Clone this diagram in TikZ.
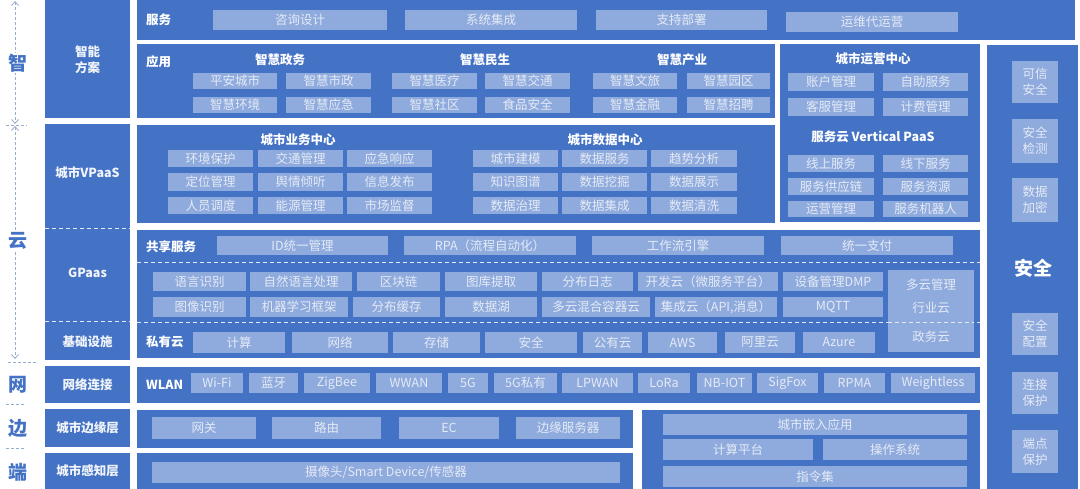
\documentclass[tikz,border=0pt]{standalone}
\usepackage{fontspec}
\setmainfont{Noto Sans CJK SC}
\usepackage{xcolor}
\usepackage{tikz}
\usetikzlibrary{arrows.meta,positioning}
\definecolor{panelblue}{RGB}{68,114,196}
\definecolor{cellblue}{RGB}{143,170,220}
\definecolor{celltext}{RGB}{228,235,247}
\definecolor{guidegray}{RGB}{150,172,205}
\tikzset{
  panelbox/.style={fill=panelblue,draw=none,inner sep=0pt},
  cellbox/.style={fill=cellblue,draw=none,inner sep=0pt,text=celltext,
    align=center,font=\fontsize{12.5}{14}\selectfont},
  secbox/.style={cellbox,font=\fontsize{12.5}{16}\selectfont},
  head/.style={text=white,inner sep=0pt,font=\bfseries\fontsize{12.5}{14}\selectfont},
  sidelabel/.style={text=white!92!panelblue,align=center,inner sep=0pt,
    font=\bfseries\fontsize{12.5}{16}\selectfont},
  divider/.style={white!85!panelblue,dash pattern=on 4pt off 3pt,line width=1pt},
  guideline/.style={guidegray,dash pattern=on 3pt off 2pt,line width=0.8pt},
  sidechar/.style={text=panelblue,fill=white,inner sep=1pt,
    font=\bfseries\fontsize{19}{20}\selectfont}
}
% box from (x1,y1) to (x2,y2), y counted downwards
\newcommand{\blk}[7][panelbox]{%
  \node[#1,minimum width={#5-#3},minimum height={#6-#4}] (#2)
    at ({(#3+#5)/2},{(#4+#6)/2}) {#7};}

\begin{document}
\begin{tikzpicture}[x=1pt,y=-1pt]
  \useasboundingbox (0,0) rectangle (1080,489);

  % left guide
  \coordinate (zhitop) at (15,1);
  \coordinate (zhibot) at (15,124);
  \coordinate (yuntop) at (15,126);
  \coordinate (yunbot) at (15,359);
  \draw[guideline,{Straight Barb[length=4pt,width=7pt]}-{Straight Barb[length=4pt,width=7pt]}] (zhitop) -- (zhibot);
  \draw[guideline,{Straight Barb[length=4pt,width=7pt]}-{Straight Barb[length=4pt,width=7pt]}] (yuntop) -- (yunbot);
  \draw[guideline] (6,125) -- (27,125);
  \draw[guideline] (8,362) -- (36,362);
  \draw[guideline] (6,404) -- (26,404);
  \draw[guideline] (6,448) -- (26,448);
  \node[sidechar] (zhi) at (18,63) {智};
  \node[sidechar] (yun) at (18,241) {云};
  \node[sidechar] (wang) at (18,385) {网};
  \node[sidechar] (bian) at (18,428) {边};
  \node[sidechar] (duan) at (18,472) {端};

  % left column
  \blk{lsol}{45}{0}{130}{118}{}
  \blk{lcloud}{45}{124}{130}{360}{}
  \blk{lnet}{45}{366}{130}{403}{}
  \blk{ledge}{45}{409}{130}{447}{}
  \blk{lsense}{45}{453}{130}{489}{}
  \draw[divider] (45,229) -- (130,229);
  \draw[divider] (45,322) -- (130,322);
  \node[sidelabel] (lsoltxt) at (87.5,60) {智能\\方案};
  \node[sidelabel] (lvpaas) at (87.5,173) {城市VPaaS};
  \node[sidelabel] (lgpaas) at (87.5,273) {GPaas};
  \node[sidelabel] (linfra) at (87.5,342) {基础设施};
  \node[sidelabel] (lnettxt) at (87.5,385) {网络连接};
  \node[sidelabel] (ledgetxt) at (87.5,428) {城市边缘层};
  \node[sidelabel] (lsensetxt) at (87.5,471) {城市感知层};

  % panels
  \blk{svc}{137}{0}{1075}{40}{}
  \blk{app}{137}{44}{775}{118}{}
  \blk{ops}{780}{44}{980}{222}{}
  \blk{vpaas}{137}{125}{775}{223}{}
  \blk{gpaas}{137}{230}{980}{358}{}
  \blk{net}{137}{367}{980}{403}{}
  \blk{edge}{137}{410}{633}{448}{}
  \blk{sense}{137}{453}{633}{489}{}
  \blk{embed}{642}{410}{980}{489}{}
  \blk{sec}{987}{45}{1078}{489}{}
  \draw[divider] (137,263) -- (980,263);
  \draw[divider] (137,323) -- (980,323);

  % service
  \node[head,anchor=west] (svctxt) at (146,20) {服务};
  \blk[cellbox]{consult}{213}{10}{387}{30}{咨询设计}
  \blk[cellbox]{integ}{405}{10}{577}{30}{系统集成}
  \blk[cellbox]{deploy}{596}{10}{767}{30}{支持部署}
  \blk[cellbox]{operate}{786}{12}{958}{32}{运维代运营}

  % application
  \node[head,anchor=west] (apptxt) at (146,62) {应用};
  \node[head] (govtxt) at (280,60) {智慧政务};
  \node[head] (livetxt) at (485,60) {智慧民生};
  \node[head] (indutxt) at (682,60) {智慧产业};
  \blk[cellbox]{safecity}{193}{73}{277}{89}{平安城市}
  \blk[cellbox]{munic}{286}{73}{371}{89}{智慧市政}
  \blk[cellbox]{envir}{193}{97}{277}{113}{智慧环境}
  \blk[cellbox]{emerg}{286}{97}{371}{113}{智慧应急}
  \blk[cellbox]{medic}{392}{73}{477}{89}{智慧医疗}
  \blk[cellbox]{traffic}{485}{73}{570}{89}{智慧交通}
  \blk[cellbox]{commun}{392}{97}{477}{113}{智慧社区}
  \blk[cellbox]{food}{485}{97}{570}{113}{食品安全}
  \blk[cellbox]{tour}{593}{73}{677}{89}{智慧文旅}
  \blk[cellbox]{park}{687}{73}{770}{89}{智慧园区}
  \blk[cellbox]{finance}{593}{97}{677}{113}{智慧金融}
  \blk[cellbox]{hire}{687}{97}{770}{113}{智慧招聘}

  % operation centre
  \node[head] (opstxt) at (873,59) {城市运营中心};
  \blk[cellbox]{account}{788}{73}{874}{91}{账户管理}
  \blk[cellbox]{selfsvc}{883}{73}{968}{91}{自助服务}
  \blk[cellbox]{custsvc}{788}{98}{874}{116}{客服管理}
  \blk[cellbox]{billing}{883}{98}{968}{116}{计费管理}
  \node[head] (vcloudtxt) at (873,137) {服务云 Vertical PaaS};
  \blk[cellbox]{online}{788}{155}{874}{172}{线上服务}
  \blk[cellbox]{offline}{883}{155}{968}{172}{线下服务}
  \blk[cellbox]{supply}{788}{178}{874}{195}{服务供应链}
  \blk[cellbox]{resource}{883}{178}{968}{195}{服务资源}
  \blk[cellbox]{opsmgmt}{788}{201}{874}{217}{运营管理}
  \blk[cellbox]{robot}{883}{201}{968}{217}{服务机器人}

  % vpaas
  \node[head] (biztxt) at (298,140) {城市业务中心};
  \node[head] (datatxt) at (605,140) {城市数据中心};
  \blk[cellbox]{envprot}{168}{150}{253}{167}{环境保护}
  \blk[cellbox]{trafmgmt}{258}{150}{343}{167}{交通管理}
  \blk[cellbox]{respond}{347}{150}{432}{167}{应急响应}
  \blk[cellbox]{locate}{168}{173}{253}{191}{定位管理}
  \blk[cellbox]{opinion}{258}{173}{343}{191}{舆情倾听}
  \blk[cellbox]{publish}{347}{173}{432}{191}{信息发布}
  \blk[cellbox]{dispatch}{168}{197}{253}{214}{人员调度}
  \blk[cellbox]{energy}{258}{197}{343}{214}{能源管理}
  \blk[cellbox]{market}{347}{197}{432}{214}{市场监督}
  \blk[cellbox]{citymodel}{473}{150}{558}{167}{城市建模}
  \blk[cellbox]{datasvc}{562}{150}{647}{167}{数据服务}
  \blk[cellbox]{trend}{651}{150}{737}{167}{趋势分析}
  \blk[cellbox]{kgraph}{473}{173}{558}{191}{知识图谱}
  \blk[cellbox]{mining}{562}{173}{647}{191}{数据挖掘}
  \blk[cellbox]{display}{651}{173}{737}{191}{数据展示}
  \blk[cellbox]{govern}{473}{197}{558}{214}{数据治理}
  \blk[cellbox]{dataint}{562}{197}{647}{214}{数据集成}
  \blk[cellbox]{cleanse}{651}{197}{737}{214}{数据清洗}

  % gpaas
  \node[head,anchor=west] (sharetxt) at (146,247) {共享服务};
  \blk[cellbox]{idm}{217}{236}{388}{255}{ID统一管理}
  \blk[cellbox]{rpa}{404}{236}{576}{255}{RPA（流程自动化）}
  \blk[cellbox]{flow}{592}{236}{764}{255}{工作流引擎}
  \blk[cellbox]{pay}{781}{236}{953}{255}{统一支付}
  \blk[cellbox]{speech}{153}{272}{246}{291}{语言识别}
  \blk[cellbox]{nlp}{250}{272}{352}{291}{自然语言处理}
  \blk[cellbox]{chain}{357}{272}{440}{291}{区块链}
  \blk[cellbox]{gallery}{445}{272}{537}{291}{图库提取}
  \blk[cellbox]{dlog}{542}{272}{633}{291}{分布日志}
  \blk[cellbox]{devcloud}{638}{272}{778}{291}{开发云（微服务平台）}
  \blk[cellbox]{dmp}{783}{272}{883}{291}{设备管理DMP}
  \blk[cellbox]{imgrec}{153}{297}{246}{317}{图像识别}
  \blk[cellbox]{mlfw}{250}{297}{348}{317}{机器学习框架}
  \blk[cellbox]{dcache}{353}{297}{440}{317}{分布缓存}
  \blk[cellbox]{lake}{445}{297}{537}{317}{数据湖}
  \blk[cellbox]{hybrid}{542}{297}{650}{317}{多云混合容器云}
  \blk[cellbox]{intcloud}{655}{297}{777}{317}{集成云（API,消息）}
  \blk[cellbox]{mqtt}{783}{297}{883}{317}{MQTT}
  \blk[cellbox,font=\fontsize{12.5}{23}\selectfont]{multi}{888}{270}{974}{352}{多云管理\\行业云\\[6pt]政务云}
  \draw[divider] (multi.west |- 0,323) -- (multi.east |- 0,323);

  % infrastructure
  \node[head,anchor=west] (privtxt) at (146,342) {私有云};
  \blk[cellbox]{compute}{193}{332}{285}{353}{计算}
  \blk[cellbox]{network}{292}{332}{388}{353}{网络}
  \blk[cellbox]{storage}{393}{332}{480}{353}{存储}
  \blk[cellbox]{secure}{485}{332}{577}{353}{安全}
  \blk[cellbox]{public}{583}{332}{642}{353}{公有云}
  \blk[cellbox]{aws}{648}{332}{717}{353}{AWS}
  \blk[cellbox]{aliyun}{725}{332}{795}{353}{阿里云}
  \blk[cellbox]{azure}{803}{332}{875}{353}{Azure}

  % network
  \node[head,anchor=west] (wlantxt) at (146,385) {WLAN};
  \blk[cellbox]{wifi}{191}{373}{243}{393}{Wi-Fi}
  \blk[cellbox]{bt}{249}{373}{298}{393}{蓝牙}
  \blk[cellbox]{zigbee}{304}{373}{370}{393}{ZigBee}
  \blk[cellbox]{wwan}{376}{373}{442}{393}{WWAN}
  \blk[cellbox]{fiveg}{448}{373}{488}{393}{5G}
  \blk[cellbox]{fivegp}{494}{373}{557}{393}{5G私有}
  \blk[cellbox]{lpwan}{562}{373}{633}{393}{LPWAN}
  \blk[cellbox]{lora}{638}{373}{690}{393}{LoRa}
  \blk[cellbox]{nbiot}{697}{373}{752}{393}{NB-IOT}
  \blk[cellbox]{sigfox}{757}{373}{818}{393}{SigFox}
  \blk[cellbox]{rpma}{824}{373}{885}{393}{RPMA}
  \blk[cellbox]{weightless}{891}{373}{975}{393}{Weightless}

  % edge and sensing
  \blk[cellbox]{gateway}{152}{417}{256}{439}{网关}
  \blk[cellbox]{router}{272}{417}{381}{439}{路由}
  \blk[cellbox]{ec}{399}{417}{499}{439}{EC}
  \blk[cellbox]{edgesrv}{516}{417}{620}{439}{边缘服务器}
  \blk[cellbox]{device}{152}{462}{620}{483}{摄像头/Smart Device/传感器}
  \blk[cellbox]{embapp}{663}{414}{967}{435}{城市嵌入应用}
  \blk[cellbox]{platform}{663}{439}{813}{460}{计算平台}
  \blk[cellbox]{os}{823}{439}{967}{460}{操作系统}
  \blk[cellbox]{isa}{663}{466}{967}{487}{指令集}

  % security
  \blk[secbox]{trust}{1012}{61}{1058}{103}{可信\\安全}
  \blk[secbox]{detect}{1012}{119}{1058}{163}{安全\\检测}
  \blk[secbox]{encrypt}{1012}{178}{1058}{222}{数据\\加密}
  \node[head,font=\bfseries\fontsize{19}{20}\selectfont] (sectxt) at (1033,268) {安全};
  \blk[secbox]{config}{1012}{313}{1058}{355}{安全\\配置}
  \blk[secbox]{connect}{1012}{372}{1058}{414}{连接\\保护}
  \blk[secbox]{endpoint}{1012}{430}{1058}{473}{端点\\保护}
\end{tikzpicture}
\end{document}
